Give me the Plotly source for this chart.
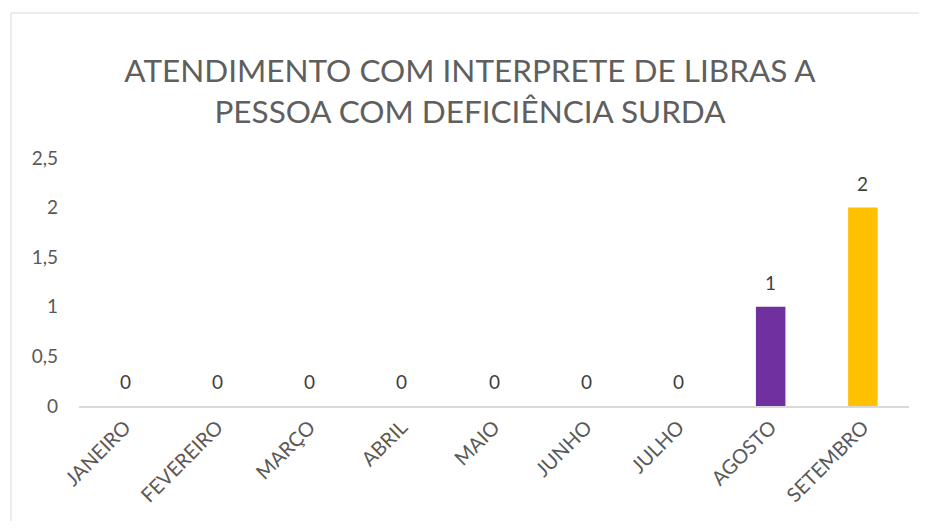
import plotly.graph_objects as go

meses = ["JANEIRO", "FEVEREIRO", "MARÇO", "ABRIL", "MAIO", "JUNHO", "JULHO", "AGOSTO", "SETEMBRO"]
atendimentos = [0, 0, 0, 0, 0, 0, 0, 1, 2]
cores = ["#4472C4"] * 7 + ["#7030A0", "#FFC000"]
titulo = "ATENDIMENTO COM INTERPRETE DE LIBRAS A<br>PESSOA COM DEFICIÊNCIA SURDA"

FONT = "Lato"
OFF = 8  # page offset of the plot div
W, H = 927 - OFF, 529 - 2 * OFF
L, T = 79 - OFF, 158 - OFF
R, B = W - (909 - OFF), H - (406 - OFF)
pw, ph = W - L - R, H - T - B

fig = go.Figure(go.Bar(
    x=meses, y=atendimentos, marker=dict(color=cores, line=dict(width=0)),
    cliponaxis=False, width=0.32, hoverinfo="x+y",
))

for m, v in zip(meses, atendimentos):
    fig.add_annotation(x=m, y=v, text=str(v), showarrow=False, yanchor="bottom",
                       yshift=11, font=dict(family=FONT, size=19, color="#404040"))

fig.update_layout(
    width=W, height=H,
    margin=dict(l=L, r=R, t=T, b=B),
    paper_bgcolor="white", plot_bgcolor="white",
    separators=",.",
    showlegend=False,
    title=dict(text=titulo, x=(470 - OFF - L) / pw, xref="paper", xanchor="center",
               y=1 - (82 - OFF) / H, yanchor="middle",
               font=dict(family=FONT, size=31.5, color="#5f5f5f")),
    font=dict(family=FONT, color="#595959"),
    xaxis=dict(tickangle=-45, tickfont=dict(family=FONT, size=20, color="#595959"),
               showline=True, linecolor="#D9D9D9", linewidth=1.5,
               showgrid=False, ticks="", zeroline=False),
    yaxis=dict(range=[0, 2.5], dtick=0.5, tick0=0, showgrid=False, zeroline=False,
               showline=False, ticks="", ticklabelstandoff=20,
               tickfont=dict(family=FONT, size=19, color="#595959")),
    shapes=[dict(type="rect", xref="paper", yref="paper",
                 x0=(11 - OFF - L) / pw, x1=3,
                 y0=-3, y1=(H - B - (13 - OFF)) / ph,
                 line=dict(color="#D9D9D9", width=1), fillcolor="rgba(0,0,0,0)",
                 layer="below")],
)

fig.write_html("out.html")
